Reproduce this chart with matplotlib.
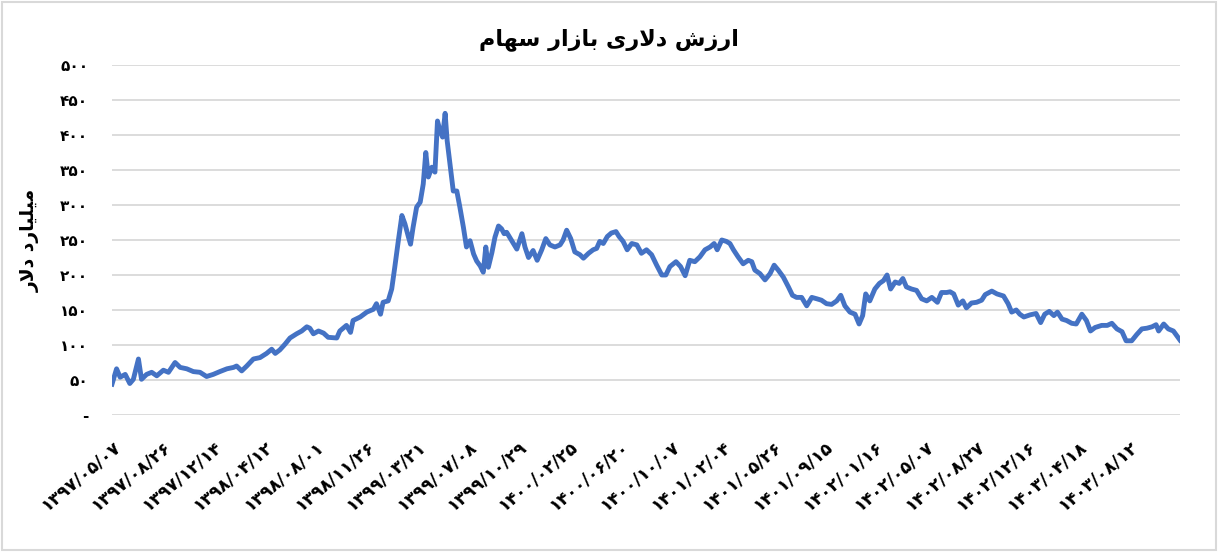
import matplotlib
matplotlib.use("Agg")
import matplotlib.pyplot as plt
from matplotlib.patches import Rectangle

# --- data (x in label steps, values in billion USD) ---
t = [0.00, 0.09, 0.16, 0.26, 0.35, 0.42, 0.52, 0.58, 0.68, 0.78, 0.88, 1.01,
     1.11, 1.24, 1.34, 1.47, 1.60, 1.73, 1.86, 1.99, 2.12, 2.26, 2.39, 2.45,
     2.55, 2.65, 2.78, 2.91, 3.04, 3.14, 3.21, 3.30, 3.40, 3.50, 3.63, 3.73,
     3.83, 3.89, 3.96, 4.06, 4.16, 4.25,
     4.42, 4.48, 4.61, 4.69, 4.74, 4.88, 5.01, 5.14, 5.20, 5.28, 5.33, 5.43,
     5.50, 5.56, 5.63, 5.70, 5.76, 5.83, 5.87, 5.92, 5.99, 6.06, 6.12, 6.17,
     6.22, 6.29, 6.35, 6.40, 6.45, 6.50, 6.55, 6.59, 6.65, 6.71, 6.78, 6.84,
     6.91, 6.97, 7.04, 7.11, 7.17, 7.24, 7.30, 7.35, 7.40, 7.47, 7.53, 7.60,
     7.66, 7.71, 7.76, 7.86, 7.96, 8.06, 8.12, 8.19, 8.28,
     8.36, 8.45, 8.53, 8.61, 8.71, 8.81, 8.87, 8.94, 9.02, 9.10, 9.20, 9.27,
     9.37, 9.46, 9.53, 9.59, 9.66, 9.74, 9.82, 9.91, 9.97, 10.05, 10.13, 10.22,
     10.32, 10.41, 10.51, 10.61, 10.71, 10.81, 10.89, 10.97, 11.09, 11.18,
     11.27, 11.36, 11.46, 11.56, 11.66, 11.76, 11.84, 11.90, 11.99, 12.08,
     12.15, 12.22, 12.31,
     12.41, 12.51, 12.58, 12.64, 12.74, 12.84, 12.94, 13.02, 13.10, 13.20,
     13.30, 13.38, 13.46, 13.56, 13.66, 13.76, 13.86, 13.95, 14.05, 14.15,
     14.25, 14.33, 14.41, 14.51, 14.61, 14.69, 14.76, 14.82, 14.90, 15.00,
     15.09, 15.17, 15.24, 15.31, 15.40, 15.48, 15.55, 15.62, 15.72, 15.82,
     15.92, 16.02, 16.12, 16.23, 16.31, 16.41,
     16.48, 16.55, 16.64, 16.73, 16.80, 16.90, 17.00, 17.10, 17.17, 17.30,
     17.40, 17.53, 17.62, 17.69, 17.78, 17.85, 17.93, 18.05, 18.17, 18.26,
     18.34, 18.43, 18.52, 18.59, 18.68, 18.77, 18.87, 18.96, 19.07, 19.16,
     19.24, 19.33, 19.46, 19.57, 19.66, 19.76, 19.86, 19.94, 20.05, 20.15,
     20.25, 20.35, 20.45, 20.53, 20.58, 20.68, 20.77, 20.87, 21.00]

value = [44, 66, 54, 58, 45, 51, 80, 51, 58, 61, 56, 64,
         61, 75, 68, 66, 62, 61, 55, 58, 62, 66, 68, 70,
         63, 70, 80, 82, 88, 94, 88, 93, 101, 110, 116, 120,
         126, 124, 116, 120, 117, 111,
         110, 120, 128, 118, 135, 140, 147, 151, 159, 144, 161, 163,
         180, 211, 249, 285, 273, 254, 244, 268, 297, 304, 330, 375,
         340, 354, 347, 420, 406, 397, 431, 392, 356, 320, 320, 297,
         268, 240, 249, 230, 220, 213, 204, 240, 211, 232, 254, 270,
         266, 259, 261, 249, 237, 259, 240, 225, 235,
         221, 236, 252, 243, 240, 243, 250, 264, 252, 233, 229, 224,
         231, 236, 238, 248, 245, 255, 260, 262, 255, 248, 236, 245,
         243, 231, 236, 229, 214, 200, 200, 212, 219, 212,
         199, 221, 219, 226, 236, 240, 245, 236, 250, 248,
         245, 236, 226,
         216, 221, 219, 207, 202, 193, 202, 214, 207, 197,
         183, 171, 168, 168, 156, 168, 166, 164, 159, 158,
         163, 171, 156, 147, 144, 130, 142, 173, 163, 180,
         188, 192, 200, 180, 190, 188, 195, 183, 180, 178,
         166, 163, 168, 161, 175, 175,
         176, 173, 157, 163, 153, 160, 161, 164, 172, 177,
         173, 170, 159, 147, 150, 144, 140, 143, 145, 132,
         144, 148, 142, 147, 137, 135, 131, 130, 144, 135,
         120, 125, 128, 128, 131, 123, 119, 106, 106, 115,
         123, 124, 126, 129, 120, 130, 123, 120, 107]

date_labels = ["۱۳۹۷/۰۵/۰۷", "۱۳۹۷/۰۸/۲۶", "۱۳۹۷/۱۲/۱۴", "۱۳۹۸/۰۴/۱۲",
               "۱۳۹۸/۰۸/۰۱", "۱۳۹۸/۱۱/۲۶", "۱۳۹۹/۰۳/۲۱", "۱۳۹۹/۰۷/۰۸",
               "۱۳۹۹/۱۰/۲۹", "۱۴۰۰/۰۲/۲۵", "۱۴۰۰/۰۶/۲۰", "۱۴۰۰/۱۰/۰۷",
               "۱۴۰۱/۰۲/۰۴", "۱۴۰۱/۰۵/۲۶", "۱۴۰۱/۰۹/۱۵", "۱۴۰۲/۰۱/۱۶",
               "۱۴۰۲/۰۵/۰۷", "۱۴۰۲/۰۸/۲۷", "۱۴۰۲/۱۲/۱۶", "۱۴۰۳/۰۴/۱۸",
               "۱۴۰۳/۰۸/۱۲"]

y_ticks = [0, 50, 100, 150, 200, 250, 300, 350, 400, 450, 500]
y_tick_labels = ["-", "۵۰", "۱۰۰", "۱۵۰", "۲۰۰", "۲۵۰", "۳۰۰", "۳۵۰",
                 "۴۰۰", "۴۵۰", "۵۰۰"]

title_text = "ارزش دلاری بازار سهام"
ylabel_text = "میلیارد دلار"

# --- tiny arabic shaper (no arabic_reshaper available) ---
FORMS = {  # isolated, final, initial, medial
    'ا': ('\uFE8D', '\uFE8E', None, None),
    'ب': ('\uFE8F', '\uFE90', '\uFE91', '\uFE92'),
    'د': ('\uFEA9', '\uFEAA', None, None),
    'ر': ('\uFEAD', '\uFEAE', None, None),
    'ز': ('\uFEAF', '\uFEB0', None, None),
    'س': ('\uFEB1', '\uFEB2', '\uFEB3', '\uFEB4'),
    'ش': ('\uFEB5', '\uFEB6', '\uFEB7', '\uFEB8'),
    'ل': ('\uFEDD', '\uFEDE', '\uFEDF', '\uFEE0'),
    'م': ('\uFEE1', '\uFEE2', '\uFEE3', '\uFEE4'),
    'ه': ('\uFEE9', '\uFEEA', '\uFEEB', '\uFEEC'),
    'ی': ('\uFEEF', '\uFEF0', '\uFEF3', '\uFEF4'),
}


def dual(c):
    return c in FORMS and FORMS[c][2] is not None


def shape(text):
    out = []
    i = 0
    while i < len(text):
        c = text[i]
        if c not in FORMS:
            out.append(c)
            i += 1
            continue
        prev_joins = i > 0 and dual(text[i - 1])
        if c == 'ل' and i + 1 < len(text) and text[i + 1] == 'ا':
            out.append('\uFEFC' if prev_joins else '\uFEFB')
            i += 2
            continue
        next_joins = dual(c) and i + 1 < len(text) and text[i + 1] in FORMS
        iso, fin, ini, med = FORMS[c]
        if prev_joins and next_joins:
            out.append(med)
        elif prev_joins:
            out.append(fin)
        elif next_joins:
            out.append(ini)
        else:
            out.append(iso)
        i += 1
    return ''.join(out)[::-1]


plt.rcParams['font.family'] = ['DejaVu Sans']

fig = plt.figure(figsize=(12.18, 5.52), dpi=100)
fig.patches.append(Rectangle((0.002, 0.004), 0.996, 0.992, transform=fig.transFigure,
                             fill=False, edgecolor='#d9d9d9', linewidth=1.5))

ax = fig.add_axes([112 / 1218, 1 - 415 / 552, 1068 / 1218, 350 / 552])
ax.plot(t, value, color='#4472C4', linewidth=3.5, solid_joinstyle='round')

ax.set_xlim(0, 21)
ax.set_ylim(0, 500)
ax.set_yticks(y_ticks)
ax.set_yticklabels(y_tick_labels, fontsize=11, fontweight='bold')
ax.set_xticks(range(len(date_labels)))
ax.set_xticklabels(date_labels, fontsize=12.5, fontweight='bold', rotation=40,
                   ha='right', va='top', rotation_mode='anchor')
ax.tick_params(axis='both', length=0)
ax.tick_params(axis='y', pad=17)
ax.tick_params(axis='x', pad=16)
ax.grid(axis='y', color='#d9d9d9', linewidth=1.3)
ax.set_axisbelow(True)
for s in ax.spines.values():
    s.set_visible(False)

fig.text(30 / 1218, 1 - 240 / 552, shape(ylabel_text), rotation=90, ha='center', va='center',
         fontsize=13.5, fontweight='bold')
fig.text(609 / 1218, 1 - 40 / 552, shape(title_text), ha='center', va='center',
         fontsize=16, fontweight='bold')

fig.savefig('out.png', dpi=100, facecolor='white')
